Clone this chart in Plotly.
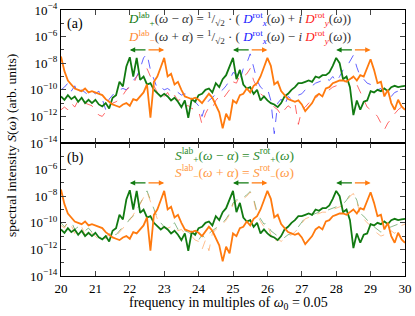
import plotly.graph_objects as go
from plotly.subplots import make_subplots

freq = [round(20.0 + 0.1 * i, 1) for i in range(101)]

# log10 of spectral intensity (step 0.1 in frequency)
green_lab = [-10.5, -10.75, -10.4, -10.7, -10.5, -10.9, -10.6, -11.0, -10.75, -11.0,
             -10.75, -11.1, -11.25, -11.0, -11.4, -10.6, -10.4, -9.4, -9.75, -8.25,
             -7.55, -9.0, -7.6, -9.25, -9.0, -9.6, -9.5, -10.0, -10.25, -10.5,
             -10.3, -10.5, -10.8, -10.6, -10.9, -11.3, -10.8, -12.1, -10.7, -10.9,
             -10.4, -10.3, -10.0, -9.9, -10.2, -9.5, -9.8, -9.2, -8.9, -8.3,
             -7.6, -9.2, -8.5, -9.6, -9.9, -9.8, -10.3, -10.0, -10.8, -10.5,
             -10.8, -11.0, -11.1, -11.3, -11.0, -10.5, -10.3, -10.0, -9.8, -9.5,
             -9.5, -9.4, -9.3, -9.4, -9.0, -9.1, -8.9, -8.9, -8.7, -8.2,
             -7.6, -8.0, -9.2, -9.0, -9.8, -11.9, -10.8, -11.5, -10.9, -10.8,
             -10.1, -10.2, -10.0, -10.1, -9.9, -10.1, -9.8, -9.7, -9.8, -9.75,
             -9.7]
orange_lab = [-7.5, -8.6, -9.3, -9.6, -9.9, -10.0, -10.1, -9.9, -10.2, -10.1,
              -10.2, -10.3, -10.4, -10.7, -10.9, -11.1, -11.2, -11.3, -11.1, -11.0,
              -11.2, -10.7, -10.8, -10.5, -10.2, -9.6, -12.1, -9.4, -9.0, -8.3,
              -7.6, -9.0, -8.8, -9.6, -9.4, -10.0, -10.5, -10.6, -10.7, -10.6,
              -10.75, -11.0, -10.6, -10.3, -10.6, -11.2, -11.7, -12.9, -11.8, -12.3,
              -10.8, -11.0, -10.4, -10.3, -9.9, -10.2, -9.7, -9.5, -9.0, -8.3,
              -7.6, -8.2, -9.6, -9.4, -10.1, -10.4, -10.7, -10.8, -10.9, -10.8,
              -11.1, -11.6, -11.3, -11.0, -10.5, -10.3, -10.5, -9.9, -9.8, -9.5,
              -9.4, -9.3, -9.3, -9.4, -9.2, -9.0, -9.3, -8.9, -9.0, -8.3,
              -7.7, -8.5, -9.5, -9.4, -10.5, -10.0, -11.0, -11.5, -10.75, -11.25,
              -11.5]
blue_x_rot = [-10.0, -9.8, -9.5, -10.1, -9.7, -10.3, -10.0, -10.2, -10.4, -10.1,
              -10.3, -10.1, -10.7, -11.5, -10.7, -10.4, -10.1, -10.0, -9.9, -10.0,
              -9.7, -9.3, -9.0, -8.4, -7.6, -7.3, -8.5, -9.2, -9.9, -9.8,
              -10.0, -9.9, -10.1, -10.0, -10.2, -10.4, -10.3, -10.4, -10.7, -10.9,
              -11.2, -12.0, -11.2, -10.8, -10.6, -10.3, -10.2, -10.0, -9.7, -9.3,
              -8.7, -8.8, -9.3, -8.4, -8.0, -7.3, -8.3, -9.3, -9.8, -10.0,
              -9.9, -10.8, -13.3, -11.0, -10.7, -11.2, -10.5, -10.7, -10.6, -10.4,
              -10.3, -10.0, -9.8, -9.7, -9.5, -9.4, -9.3, -9.1, -9.3, -9.0,
              -9.4, -9.0, -8.5, -8.3, -7.9, -7.4, -8.3, -9.0, -9.2, -9.5,
              -9.6, -9.8, -10.0, -9.9, -10.3, -10.2, -10.5, -10.2, -10.1, -10.2,
              -9.9]
red_y_rot = [-11.5, -11.3, -11.5, -11.0, -11.3, -10.8, -10.9, -11.0, -11.1, -11.2,
             -11.6, -11.9, -12.0, -11.6, -11.3, -11.0, -10.9, -10.7, -10.4, -10.0,
             -9.8, -9.6, -9.0, -8.7, -8.6, -8.4, -9.0, -9.7, -10.2, -10.1,
             -10.5, -10.2, -10.7, -10.4, -10.8, -10.7, -11.2, -11.2, -11.4, -11.5,
             -11.6, -12.6, -11.8, -11.3, -11.4, -10.8, -10.5, -10.7, -10.3, -10.0,
             -9.4, -9.5, -8.9, -9.0, -8.8, -8.4, -9.3, -9.8, -10.3, -10.5,
             -10.8, -11.0, -11.3, -11.5, -11.9, -11.5, -11.2, -11.4, -11.0, -12.6,
             -11.5, -11.3, -11.0, -10.8, -10.7, -10.3, -10.5, -10.2, -10.0, -9.8,
             -9.7, -9.6, -9.5, -9.3, -9.2, -9.1, -9.6, -10.2, -10.8, -11.3,
             -11.5, -11.7, -12.0, -12.5, -13.0, -12.5, -12.2, -11.8, -11.5, -11.3,
             -11.0]
green_rot = [-10.0, -10.3, -10.0, -9.9, -10.5, -10.3, -10.4, -10.6, -10.4, -10.7,
             -10.8, -11.0, -11.2, -11.0, -10.9, -10.8, -10.9, -10.6, -10.3, -10.1,
             -9.7, -9.5, -9.0, -8.5, -8.0, -7.6, -8.3, -9.0, -9.6, -10.0,
             -10.3, -10.5, -10.2, -10.0, -10.5, -10.3, -10.6, -10.7, -10.9, -11.0,
             -11.3, -10.9, -11.2, -10.8, -10.6, -10.4, -10.2, -10.0, -9.7, -9.3,
             -8.5, -8.3, -8.0, -8.1, -7.9, -7.65, -8.2, -9.2, -9.7, -10.1,
             -10.0, -10.6, -10.8, -11.0, -11.2, -11.1, -10.9, -10.8, -10.6, -10.3,
             -9.9, -9.6, -9.5, -9.4, -9.3, -9.2, -9.1, -9.1, -9.0, -8.9,
             -8.8, -8.7, -8.6, -8.3, -7.9, -7.8, -8.3, -9.3, -9.5, -9.8,
             -10.0, -10.3, -10.5, -10.7, -10.6, -10.4, -10.3, -10.2, -10.1, -10.0,
             -9.9]
orange_rot = [-10.2, -10.4, -9.9, -10.2, -10.8, -10.5, -10.3, -10.9, -10.5, -10.8,
              -11.0, -11.3, -11.1, -11.2, -10.8, -10.9, -11.0, -10.7, -10.4, -10.2,
              -9.8, -9.4, -9.1, -8.6, -8.1, -7.65, -8.4, -9.1, -9.7, -10.1,
              -10.4, -10.4, -10.3, -10.2, -10.6, -10.5, -10.8, -10.9, -11.0, -11.3,
              -11.4, -12.0, -11.3, -12.1, -10.8, -10.5, -10.3, -10.1, -9.8, -9.4,
              -8.6, -8.4, -8.1, -8.2, -8.0, -7.7, -8.3, -9.4, -9.9, -10.3,
              -10.1, -10.9, -11.5, -11.2, -11.4, -11.2, -11.0, -10.9, -10.7, -10.4,
              -10.0, -9.7, -9.6, -9.5, -9.4, -9.3, -9.2, -9.2, -9.1, -9.0,
              -8.9, -8.8, -8.7, -8.4, -8.0, -7.8, -8.4, -9.4, -9.7, -10.0,
              -10.2, -10.6, -10.8, -11.0, -10.9, -11.1, -10.6, -10.8, -10.4, -10.2,
              -10.1]

arrow_centers = [22.5, 25.5, 28.5]
arrow_level = -7.0
x_ticks = [20, 21, 22, 23, 24, 25, 26, 27, 28, 29, 30]
y_ticks_a = [-4, -6, -8, -10, -12, -14]
y_ticks_b = [-6, -8, -10, -12, -14]

GREEN = "#117a11"
ORANGE = "#ff7a0e"
FONT = "Liberation Serif"

PL, PT, PR, PB = 61, 10, 405, 276   # plot area in page pixels

def lin(v):
    return [10 ** x for x in v]

fig = make_subplots(rows=2, cols=1, shared_xaxes=False, vertical_spacing=0)

fig.add_trace(go.Scatter(x=freq, y=lin(blue_x_rot), mode="lines",
                         line=dict(color="rgba(60,60,255,0.8)", width=1, dash="dash")), 1, 1)
fig.add_trace(go.Scatter(x=freq, y=lin(red_y_rot), mode="lines",
                         line=dict(color="rgba(255,40,40,0.7)", width=1, dash="dash")), 1, 1)
fig.add_trace(go.Scatter(x=freq, y=lin(green_lab), mode="lines",
                         line=dict(color=GREEN, width=1.8)), 1, 1)
fig.add_trace(go.Scatter(x=freq, y=lin(orange_lab), mode="lines",
                         line=dict(color=ORANGE, width=1.8)), 1, 1)

fig.add_trace(go.Scatter(x=freq, y=lin(green_rot), mode="lines",
                         line=dict(color="rgba(60,140,60,0.6)", width=1, dash="dash")), 2, 1)
fig.add_trace(go.Scatter(x=freq, y=lin(orange_rot), mode="lines",
                         line=dict(color="rgba(255,150,70,0.6)", width=1, dash="dash")), 2, 1)
fig.add_trace(go.Scatter(x=freq, y=lin(green_lab), mode="lines",
                         line=dict(color=GREEN, width=1.8)), 2, 1)
fig.add_trace(go.Scatter(x=freq, y=lin(orange_lab), mode="lines",
                         line=dict(color=ORANGE, width=1.8)), 2, 1)

def sup(s):
    return s.replace("-", "\u2212")

for r, ticks in ((1, y_ticks_a), (2, y_ticks_b)):
    fig.update_yaxes(type="log", range=[-14, -4], tickvals=[10 ** t for t in ticks],
                     ticktext=["10<sup>" + sup(str(t)) + "</sup>" for t in ticks],
                     ticks="inside", ticklen=5, mirror="ticks", showline=True,
                     linecolor="black", linewidth=1.2, showgrid=False, zeroline=False,
                     automargin=False,
                     minor=dict(ticks="inside", ticklen=2.5,
                                tickvals=[10 ** t for t in range(-13, -4, 1)]),
                     tickfont=dict(family=FONT, size=13, color="black"), row=r, col=1)
    fig.update_xaxes(range=[20, 30], tickvals=x_ticks, ticks="inside", ticklen=5,
                     mirror="ticks", showline=True, linecolor="black", linewidth=1.2,
                     showgrid=False, zeroline=False, showticklabels=(r == 2),
                     automargin=False,
                     tickfont=dict(family=FONT, size=13, color="black"), row=r, col=1)

fig.update_yaxes(domain=[0.5, 1.0], row=1, col=1)
fig.update_yaxes(domain=[0.0, 0.5], row=2, col=1)

ann = []
for row, yref, xref in ((1, "y", "x"), (2, "y2", "x2")):
    for c in arrow_centers:
        ann.append(dict(x=c - 0.5, y=arrow_level, ax=c, ay=arrow_level, xref=xref, yref=yref,
                        axref=xref, ayref=yref, text="", showarrow=True, arrowhead=2,
                        arrowsize=0.9, arrowwidth=1.2, arrowcolor=GREEN, standoff=0))
        ann.append(dict(x=c + 0.5, y=arrow_level, ax=c, ay=arrow_level, xref=xref, yref=yref,
                        axref=xref, ayref=yref, text="", showarrow=True, arrowhead=2,
                        arrowsize=0.9, arrowwidth=1.2, arrowcolor=ORANGE, standoff=0))

G2 = "#333333"
def col(t, c):
    return '<span style="color:%s">%s</span>' % (c, t)

line1 = (col("<i>D</i><sup>lab</sup><sub>+</sub>", GREEN)
         + col("(<i>ω</i> − <i>α</i>) = <sup>1</sup>/<sub>√2</sub> · ( ", G2)
         + col("<i>D</i><sup>rot</sup><sub><i>x</i></sub>", "#2222ff")
         + col("(<i>ω</i>) + <i>i</i> ", G2)
         + col("<i>D</i><sup>rot</sup><sub><i>y</i></sub>", "#ff2222")
         + col("(<i>ω</i>))", G2))
line2 = (col("<i>D</i><sup>lab</sup><sub>−</sub>", "#ff8a33")
         + col("(<i>ω</i> + <i>α</i>) = <sup>1</sup>/<sub>√2</sub> · ( ", G2)
         + col("<i>D</i><sup>rot</sup><sub><i>x</i></sub>", "#2222ff")
         + col("(<i>ω</i>) − <i>i</i> ", G2)
         + col("<i>D</i><sup>rot</sup><sub><i>y</i></sub>", "#ff2222")
         + col("(<i>ω</i>))", G2))
line3 = col("<i>S</i><sup>lab</sup><sub>+</sub>(<i>ω</i> − <i>α</i>) = <i>S</i><sup>rot</sup><sub>+</sub>(<i>ω</i>)", "#2e8b2e")
line4 = col("<i>S</i><sup>lab</sup><sub>−</sub>(<i>ω</i> + <i>α</i>) = <i>S</i><sup>rot</sup><sub>−</sub>(<i>ω</i>)", "#ff9944")

def px_ann(text, x, y, size, **kw):
    d = dict(text=text, xref="paper", yref="paper", x=(x - PL) / float(PR - PL),
             y=(PB - y) / float(PB - PT), showarrow=False, xanchor="center",
             yanchor="middle", font=dict(family=FONT, size=size, color="black"), **kw)
    return d

ann.append(px_ann(line1, 239, 19, 13))
ann.append(px_ann(line2, 239, 37, 13))
ann.append(px_ann(line3, 234, 155, 13.5))
ann.append(px_ann(line4, 234, 172, 13.5))
ann.append(px_ann("(a)", 75, 24, 14))
ann.append(px_ann("(b)", 75, 158, 14))
ann.append(px_ann("spectral intensity <i>S</i>(<i>ω</i>) (arb. units)", 11, 146, 13.5,
                  textangle=-90))
ann.append(px_ann("frequency in multiples of <i>ω</i><sub>0</sub> = 0.05", 228, 304, 14))

fig.update_layout(width=415, height=316,
                  margin=dict(l=PL, r=415 - PR, t=PT, b=316 - PB),
                  showlegend=False, plot_bgcolor="white", paper_bgcolor="white",
                  annotations=ann, font=dict(family=FONT))

fig.write_html("out.html", config={"displayModeBar": False},
               post_script="document.body.style.margin='0px';")
